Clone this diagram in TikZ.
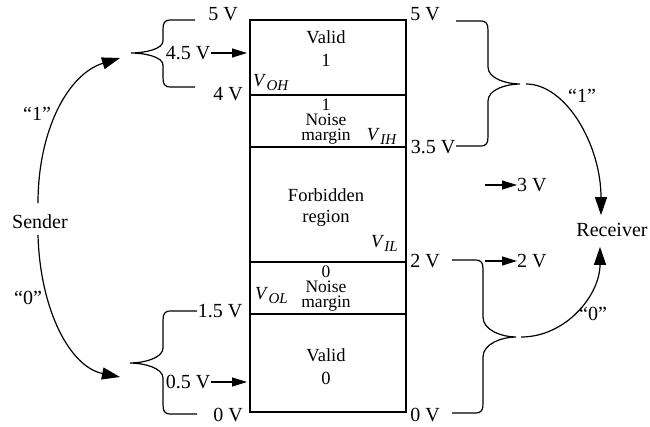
\documentclass[tikz,border=0pt]{standalone}
\usepackage{fontspec}
\setmainfont{Liberation Serif}
\usetikzlibrary{arrows.meta}
\newcommand{\vsb}[1]{\textit{V}\kern0.3pt\raisebox{-4.5pt}{\fontsize{15}{15}\selectfont\textit{#1}}}
% brace with tip to the left: #1 arm end x, #2 vertical x, #3 tip x, #4 top y, #5 tip y, #6 bottom y, #7 bend length
\newcommand{\bracetipleft}[7]{%
  \draw[ln] (#1,#4) -- ({#2+8},#4) .. controls ({#2+1},#4) and (#2,{#4+3}) .. (#2,{#4+10})
  -- (#2,{#5-#7}) .. controls (#2,{#5-#7/3}) and ({#3+14},#5) .. (#3,#5)
  .. controls ({#3+14},#5) and (#2,{#5+#7/3}) .. (#2,{#5+#7})
  -- (#2,{#6-10}) .. controls (#2,{#6-3}) and ({#2+1},#6) .. ({#2+8},#6) -- (#1,#6);}
% brace with tip to the right
\newcommand{\bracetipright}[7]{%
  \draw[ln] (#1,#4) -- ({#2-8},#4) .. controls ({#2-1},#4) and (#2,{#4+3}) .. (#2,{#4+10})
  -- (#2,{#5-#7}) .. controls (#2,{#5-#7/3}) and ({#3-14},#5) .. (#3,#5)
  .. controls ({#3-14},#5) and (#2,{#5+#7/3}) .. (#2,{#5+#7})
  -- (#2,{#6-10}) .. controls (#2,{#6-3}) and ({#2-1},#6) .. ({#2-8},#6) -- (#1,#6);}
\begin{document}
\begin{tikzpicture}[x=1pt,y=-1pt,
  ln/.style={line width=1.2pt},
  t/.style={inner sep=0pt,text height=13.2pt,text depth=0pt,font=\fontsize{20}{22}\selectfont},
  ti/.style={inner sep=0pt,text height=12.2pt,text depth=0pt,font=\fontsize{18.5}{20}\selectfont},
  tn/.style={inner sep=0pt,text height=11.5pt,text depth=0pt,font=\fontsize{17.5}{18}\selectfont},
  bigarr/.style={ln,-{Triangle[length=18pt,width=12pt]}},
  smallarr/.style={ln,-{Triangle[length=15pt,width=9pt]}}]
\useasboundingbox (0,0) rectangle (650,426);

% the voltage column
\draw[ln] (250,20) rectangle (406,412);
\foreach \yy in {95,147,262,314} \draw[ln] (250,\yy) -- (406,\yy);

% texts inside the column
\node[ti] (valid1) at (326,37) {Valid};
\node[ti] (one1) at (326,60) {1};
\node[ti,anchor=west] (voh) at (253,80) {\vsb{OH}};
\node[tn] (nm1a) at (326,105) {1};
\node[tn] (nm1b) at (326,120) {Noise};
\node[tn] (nm1c) at (326,135) {margin};
\node[ti,anchor=east] (vih) at (397,134) {\vsb{IH}};
\node[ti] (forb) at (326,195) {Forbidden};
\node[ti] (reg) at (326,216) {region};
\node[ti,anchor=east] (vil) at (398,241) {\vsb{IL}};
\node[tn] (nm0a) at (326,272) {0};
\node[tn] (nm0b) at (326,287) {Noise};
\node[tn] (nm0c) at (326,302) {margin};
\node[ti,anchor=west] (vol) at (255,293) {\vsb{OL}};
\node[ti] (valid0) at (326,355) {Valid};
\node[ti] (zero0) at (326,378) {0};

% left side labels
\node[t] (l5) at (223,14) {5 V};
\node[t] (l45) at (188,53) {4.5 V};
\node[t] (l4) at (228,94) {4 V};
\node[t] (l15) at (220,311) {1.5 V};
\node[t] (l05) at (188,382) {0.5 V};
\node[t] (l0) at (228,415) {0 V};
\coordinate (e45) at (247,53);
\coordinate (e05) at (247,382);
\draw[smallarr] ([xshift=1pt]l45.east) -- (e45);
\draw[smallarr] ([xshift=1pt]l05.east) -- (e05);

% left braces
\bracetipleft{195}{163}{131}{20}{53}{87}{12}
\bracetipleft{197}{163}{130}{311}{363}{414}{15}
\coordinate (tipL1) at (120,58);
\coordinate (tipL0) at (120,377);

% sender
\node[t] (sender) at (40,222) {Sender};
\node[t] (q1l) at (37,114) {“1”};
\node[t] (q0l) at (28,298) {“0”};
\draw[bigarr] ([xshift=-2pt,yshift=12pt]sender.north) .. controls (38,130) and (68,74) .. (tipL1);
\draw[bigarr] ([xshift=-2pt,yshift=-6pt]sender.south) .. controls (40,310) and (70,367) .. (tipL0);

% right side labels
\node[t] (r5) at (425,14) {5 V};
\node[t] (r35) at (433,147) {3.5 V};
\node[t] (r2) at (425,261) {2 V};
\node[t] (r0) at (425,415) {0 V};
\node[t,anchor=west] (r3) at (517,185) {3 V};
\node[t,anchor=west] (r2b) at (517,261) {2 V};
\coordinate (s3) at (485,185);
\coordinate (s2) at (485,261);
\draw[smallarr] (s3) -- (r3.west);
\draw[smallarr] (s2) -- (r2b.west);

% right braces
\bracetipright{456}{488}{520}{21}{84}{146}{17}
\bracetipright{452}{483}{516}{260}{337}{413}{20}
\coordinate (srcR1) at (526,84);
\coordinate (srcR0) at (521,337);

% receiver
\node[t] (receiver) at (612,230) {Receiver};
\node[t] (q1r) at (582,96) {“1”};
\node[t] (q0r) at (593,314) {“0”};
\draw[bigarr] (srcR1) .. controls (566,84) and (601,145) .. ([xshift=-11pt,yshift=8pt]receiver.north);
\draw[bigarr] (srcR0) .. controls (566,337) and (600,295) .. ([xshift=-12pt,yshift=-10pt]receiver.south);
\end{tikzpicture}
\end{document}
